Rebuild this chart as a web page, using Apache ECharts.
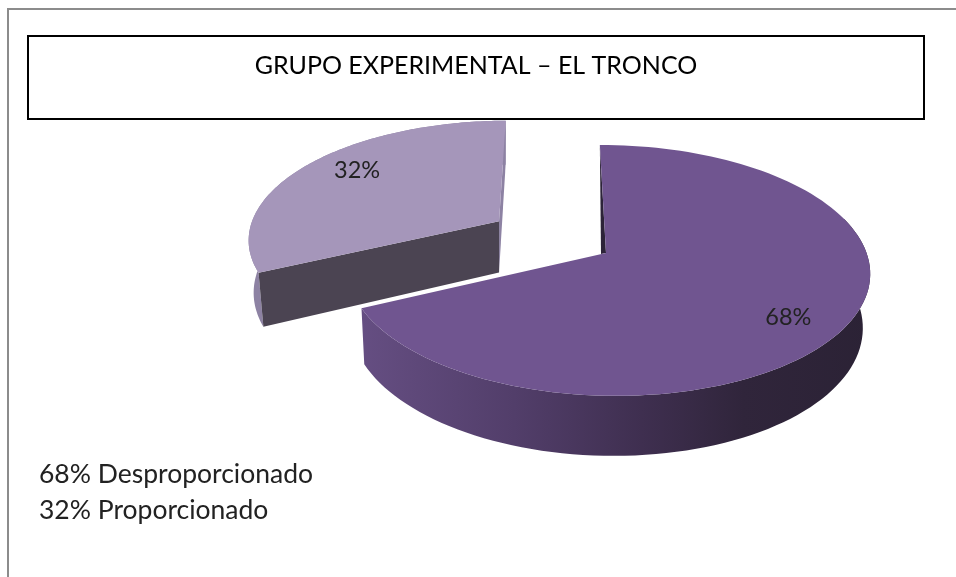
<!DOCTYPE html>
<html>
<head>
<meta charset="utf-8">
<style>
html, body { margin: 0; padding: 0; background: #fff; }
#main { width: 956px; height: 577px; }
</style>
<script src="https://cdn.jsdelivr.net/npm/echarts@6/dist/echarts.min.js"></script>
</head>
<body>
<div id="main"></div>
<script>
var titleText = 'GRUPO EXPERIMENTAL – EL TRONCO';
var categories = ['Desproporcionado', 'Proporcionado'];
var values = [68, 32];

// explode of each slice, as a part of the radius
var explode = [0, 0.5];
var topColors = ['#705590', '#a596ba'];
var cutColors = ['#2c2338', '#4b4452'];
var backColors = ['#2c2338', '#8d82a3'];
var labelShift = [[5, 12], [4, -8]];

// perspective of the pie plane
var cx = 606, cy = 253, a = 259, b = 123, shear = 7, kv = 0.139, ku = 0.006;
var vanishX = 500;

function project(u, v) {
    var w = 1 - kv * v - ku * u;
    return [cx + (a * u + shear * v) / w, cy + b * v / w];
}

// same point on the lower side of the pie
function lower(u, v) {
    var p = project(u, v);
    return [p[0] + (vanishX - p[0]) * 0.02, p[1] + 53 + 7 * v];
}

function renderSlice(params, api) {
    var i = params.dataIndex;
    var total = values[0] + values[1];
    var before = 0;
    for (var n = 0; n < i; n++) {
        before += values[n];
    }
    var start = before / total * Math.PI * 2;
    var end = (before + api.value(0)) / total * Math.PI * 2;
    var mid = (start + end) / 2;
    var ox = Math.sin(mid) * explode[i];
    var oy = -Math.cos(mid) * explode[i];

    var rimTop = [], rimLow = [], wallTop = [], wallLow = [];
    for (var s = 0; s <= 120; s++) {
        var t = start + (end - start) * s / 120;
        var u = ox + Math.sin(t);
        var v = oy - Math.cos(t);
        rimTop.push(project(u, v));
        rimLow.push(lower(u, v));
        // the back of the big slice stays hidden, it would poke out at the cut
        if (i === 1 || v > -0.3) {
            wallTop.push(project(u, v));
            wallLow.push(lower(u, v));
        }
    }
    var apex = project(ox, oy);
    var apexLow = lower(ox, oy);
    var children = [];

    // outer wall
    var wallFill = backColors[i];
    if (i === 0) {
        wallFill = new echarts.graphic.LinearGradient(361, 0, 871, 0, [
            { offset: 0, color: '#654e82' },
            { offset: 0.3, color: '#523e6a' },
            { offset: 0.55, color: '#3f2f50' },
            { offset: 0.75, color: '#30253b' },
            { offset: 1, color: '#2b2235' }
        ], true);
    }
    children.push({
        type: 'polygon',
        shape: { points: wallTop.concat(wallLow.slice().reverse()) },
        style: { fill: wallFill }
    });

    // top face edge points
    var first = rimTop[0], last = rimTop[rimTop.length - 1];
    if (i === 0) {
        children.push({
            type: 'polygon',
            shape: { points: [first, apex, [apex[0] - 5, apex[1] + 1]] },
            style: { fill: cutColors[0] }
        });
    } else {
        children.push({
            type: 'polygon',
            shape: { points: [last, apex, apexLow, rimLow[rimLow.length - 1]] },
            style: { fill: backColors[1] }
        });
        children.push({
            type: 'polygon',
            shape: { points: [first, apex, apexLow, rimLow[0]] },
            style: { fill: cutColors[1] }
        });
    }

    // top face
    children.push({
        type: 'polygon',
        shape: { points: [apex].concat(rimTop) },
        style: { fill: topColors[i] }
    });

    // percent label
    var lu = ox + Math.sin(mid) * 0.75;
    var lv = oy - Math.cos(mid) * 0.75;
    var lp = project(lu, lv);
    children.push({
        type: 'text',
        x: lp[0] + labelShift[i][0],
        y: lp[1] + labelShift[i][1],
        style: {
            text: api.value(0) + '%',
            font: '23.5px Lato',
            fill: '#222',
            align: 'center',
            verticalAlign: 'middle'
        }
    });

    return { type: 'group', children: children };
}

var chart = echarts.init(document.getElementById('main'), null, { renderer: 'canvas' });
chart.setOption({
    animation: false,
    backgroundColor: '#fff',
    graphic: [
        { type: 'line', shape: { x1: 8, y1: 9, x2: 956, y2: 9 }, style: { stroke: '#8c8c8c', lineWidth: 2 } },
        { type: 'line', shape: { x1: 8, y1: 8, x2: 8, y2: 577 }, style: { stroke: '#8c8c8c', lineWidth: 2 } },
        { type: 'rect', shape: { x: 28, y: 36, width: 896, height: 83 }, style: { fill: '#fff', stroke: '#000', lineWidth: 2 } },
        {
            type: 'text', x: 476, y: 66,
            style: { text: titleText, font: '25px Lato', fill: '#000', align: 'center', verticalAlign: 'middle' }
        },
        {
            type: 'text', x: 39, y: 474,
            style: { text: values[0] + '% ' + categories[0], font: '26.5px Lato', fill: '#222', verticalAlign: 'middle' }
        },
        {
            type: 'text', x: 39, y: 510,
            style: { text: values[1] + '% ' + categories[1], font: '26.5px Lato', fill: '#222', verticalAlign: 'middle' }
        }
    ],
    series: [{
        type: 'custom',
        coordinateSystem: 'none',
        renderItem: renderSlice,
        data: values
    }]
});
</script>
</body>
</html>
